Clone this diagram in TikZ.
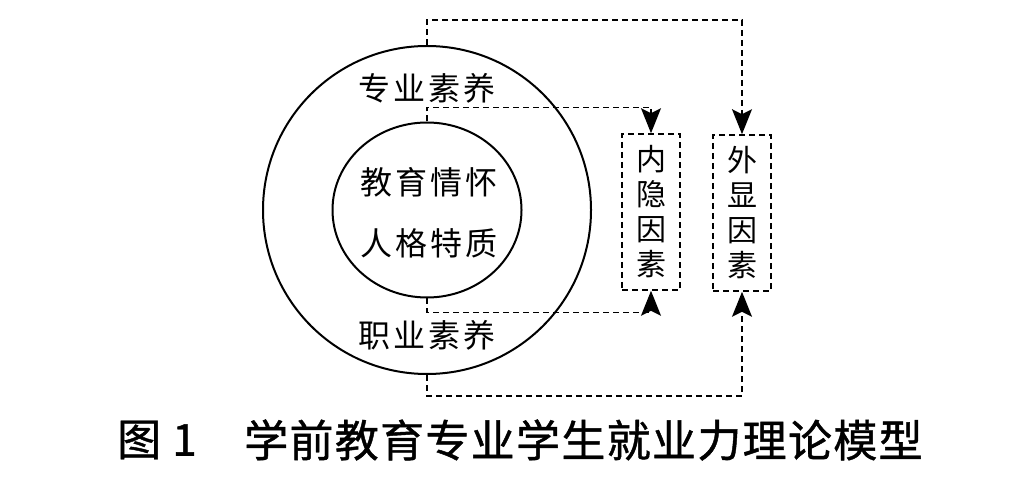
\documentclass[tikz,border=0pt]{standalone}
\usepackage{fontspec}
\newfontfamily\cjk[LetterSpace=9]{Noto Sans CJK SC}
\newfontfamily\cjkcap[LetterSpace=3,FakeBold=1]{Noto Sans CJK SC}
\usetikzlibrary{arrows.meta,shapes.geometric,positioning}
\tikzset{
  ring/.style={draw, line width=2pt, inner sep=0pt},
  factorbox/.style={draw, dash pattern=on 6pt off 4pt, line width=1.6pt,
    minimum width=58pt, minimum height=156pt, inner sep=0pt, align=center,
    font=\cjk\fontsize{30}{35}\selectfont},
  flowline/.style={draw, dash pattern=on 6pt off 4pt, line width=1.6pt,
    -{Stealth[length=25pt,width=20pt,inset=5pt]}},
  circletext/.style={font=\cjk\fontsize{32}{36}\selectfont},
  caption/.style={font=\cjkcap\fontsize{44}{48}\selectfont, inner sep=0pt}
}
\begin{document}
\begin{tikzpicture}[x=1pt,y=1pt]
    \useasboundingbox (0,0) rectangle (1019,490);
    % circles
    \node[ring, circle, minimum size=328pt] (outer) at (427,280) {};
    \node[ring, ellipse, minimum width=189pt, minimum height=175pt] (inner) at (427,280) {};
    \node[circletext] (zhuanye) at (427,402) {专业素养};
    \node[circletext] (zhiye) at (427,155) {职业素养};
    \node[circletext] (qinghuai) at (429,308) {教育情怀};
    \node[circletext] (renge) at (429,247) {人格特质};
    % factor boxes
    \node[factorbox] (nei) at (651,278) {内\\隐\\因\\素};
    \node[factorbox] (wai) at (742,277) {外\\显\\因\\素};
    % connectors
    \draw[flowline] (outer.north) -- ++(0,25) -| (wai.north);
    \draw[flowline] (outer.south) -- ++(0,-21) -| (wai.south);
    \draw[flowline] (inner.north) -- ++(0,14) -| (nei.north);
    \draw[flowline] (inner.south) -- ++(0,-14) -| (nei.south);
    % caption
    \node[caption, anchor=west] (figlabel) at (117,50) {图 1};
    \node[caption, anchor=west] (figtitle) at (244,50) {学前教育专业学生就业力理论模型};
\end{tikzpicture}
\end{document}
